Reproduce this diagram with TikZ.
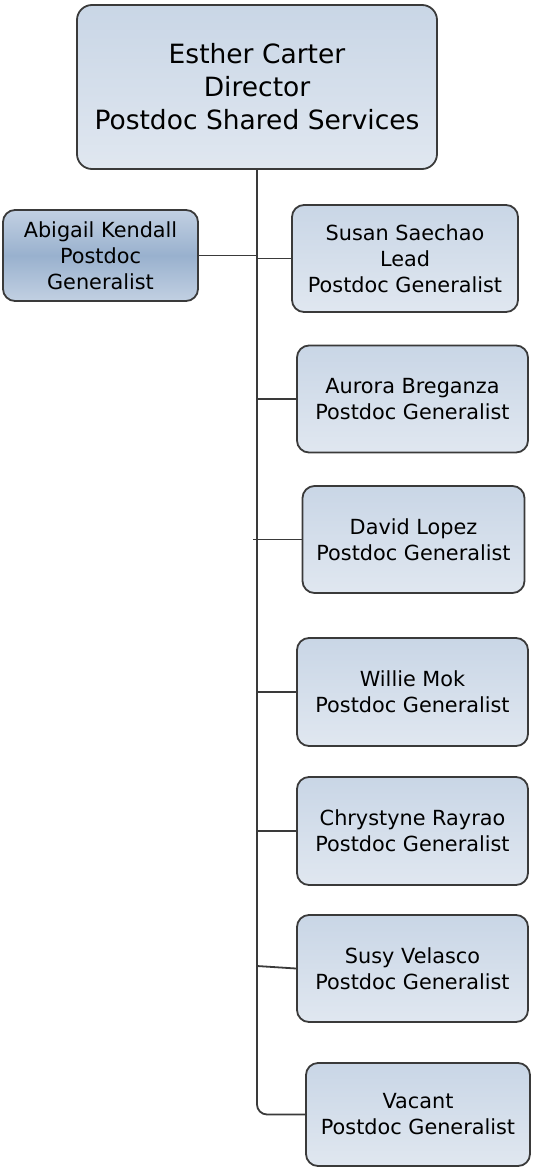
\documentclass[tikz,border=0pt]{standalone}
\usepackage{fontspec}
\setmainfont{DejaVu Sans}
\definecolor{boxtop}{HTML}{C9D6E6}
\definecolor{boxbot}{HTML}{E0E7F0}
\definecolor{hlend}{HTML}{C2D0E2}
\definecolor{hlmid}{HTML}{99B1CE}
\definecolor{edge}{HTML}{3A3A3A}
\begin{document}
\begin{tikzpicture}[x=1pt, y=-1pt,
    every node/.style = {shape=rectangle, rounded corners=12pt, draw=edge, line width=1.8pt, align=center,
      top color=boxtop, bottom color=boxbot, inner sep=0pt, font=\fontsize{20.8}{26}\selectfont}]
	\tikzset{ highlight/.style = {top color=hlend, bottom color=hlend, middle color=hlmid} }
	\tikzset{ head/.style = {rounded corners=15pt, font=\fontsize{26.5}{33}\selectfont} }
	\tikzset{ link/.style = {draw=edge, line width=1.8pt} }
	\useasboundingbox (0,0) rectangle (533,1169);
	% director and staff
	\node [head, minimum width=360pt, minimum height=164pt] (esther) at (257,87) {Esther Carter\\Director\\Postdoc Shared Services};
	\node [highlight, minimum width=195pt, minimum height=91pt] (abigail) at (100.5,255.5) {Abigail Kendall\\Postdoc\\Generalist};
	\node [minimum width=226pt, minimum height=107pt] (susan) at (405,258.5) {Susan Saechao\\Lead\\Postdoc Generalist};
	\node [minimum width=231pt, minimum height=107pt] (aurora) at (412.5,399) {Aurora Breganza\\Postdoc Generalist};
	\node [minimum width=222pt, minimum height=107pt] (david) at (413.5,539.5) {David Lopez\\Postdoc Generalist};
	\node [minimum width=231pt, minimum height=108pt] (willie) at (412.5,692) {Willie Mok\\Postdoc Generalist};
	\node [minimum width=231pt, minimum height=108pt] (chrystyne) at (412.5,831) {Chrystyne Rayrao\\Postdoc Generalist};
	\node [minimum width=231pt, minimum height=107pt] (susy) at (412.5,968.5) {Susy Velasco\\Postdoc Generalist};
	\node [minimum width=224pt, minimum height=103pt] (vacant) at (418,1114.5) {Vacant\\Postdoc Generalist};
	\coordinate (davidjoin) at (253,539.5);
	\coordinate (susyjoin) at (257,966);
	% connectors
	\draw [link, rounded corners=10pt] (esther.south) |- (vacant.west);
	\draw [link] (abigail.east) -- (abigail.east -| esther.south);
	\draw [link] (susan.west) -- (susan.west -| esther.south);
	\draw [link] (aurora.west) -- (aurora.west -| esther.south);
	\draw [link] (david.west) -- (davidjoin);
	\draw [link] (willie.west) -- (willie.west -| esther.south);
	\draw [link] (chrystyne.west) -- (chrystyne.west -| esther.south);
	\draw [link] (susy.west) -- (susyjoin);
\end{tikzpicture}
\end{document}
